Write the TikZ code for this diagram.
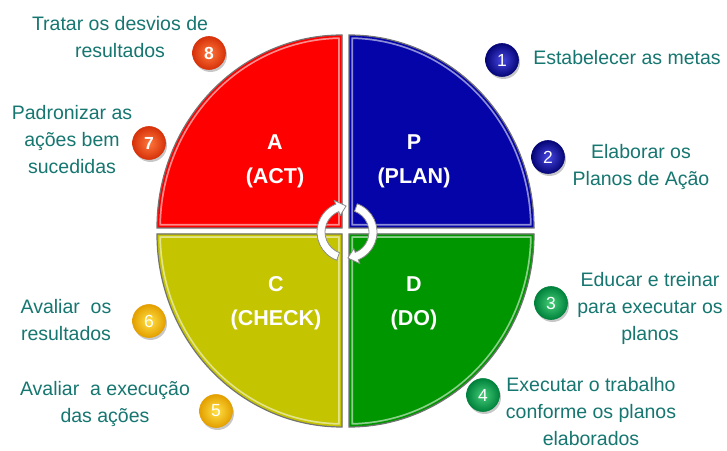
\documentclass[tikz,border=0pt]{standalone}
\usepackage{fontspec}
\setmainfont{Liberation Sans}
\definecolor{qred}{RGB}{255,0,0}
\definecolor{qblue}{RGB}{4,4,168}
\definecolor{qyellow}{RGB}{196,196,0}
\definecolor{qgreen}{RGB}{0,150,0}
\definecolor{tealtxt}{RGB}{22,118,112}
\definecolor{bBlueIn}{RGB}{70,70,225}
\definecolor{bBlueOut}{RGB}{6,6,120}
\definecolor{bGreenIn}{RGB}{70,205,120}
\definecolor{bGreenOut}{RGB}{0,130,60}
\definecolor{bYelIn}{RGB}{255,225,70}
\definecolor{bYelOut}{RGB}{228,160,0}
\definecolor{bRedIn}{RGB}{255,120,60}
\definecolor{bRedOut}{RGB}{215,50,10}
\newcommand\pdcaquad[2]{%
  \fill[#2] #1;
  \begin{scope}
    \clip #1;
    \draw[#2!45!white, line width=8pt] #1;
    \draw[#2, line width=4.5pt] #1;
  \end{scope}
  \draw[black!55, line width=1.2pt] #1;
}
\newcommand\pdcaarrow[1]{%
  \begin{scope}[shift={(347,218)}, rotate=#1]
    \filldraw[fill=white, draw=black!45, line width=0.8pt]
      (250:30) arc[start angle=250, end angle=112, radius=30]
      -- (112:34) -- (92:26) -- (112:18) -- (112:22)
      arc[start angle=112, end angle=250, radius=22] -- cycle;
  \end{scope}}
\tikzset{
  qlabel/.style={text=white, align=center, inner sep=0pt,
    font=\bfseries\fontsize{21.5}{34}\selectfont},
  steptext/.style={text=tealtxt, align=center, inner sep=0pt,
    font=\fontsize{19.5}{27}\selectfont},
  numball/.style={circle, minimum size=33pt, inner sep=0pt, text=white,
    font=\fontsize{17.5}{17.5}\selectfont, draw=#1Out, line width=0.6pt,
    inner color=#1In, outer color=#1Out},
  ballshadow/.style={fill=black, opacity=0.22}
}
\begin{document}
\begin{tikzpicture}[x=1pt, y=1pt]
\useasboundingbox (0,0) rectangle (727,450);
\fill[white] (0,0) rectangle (727,450);

% quadrants
\pdcaquad{(342,222) -- (157,222) arc[start angle=180, end angle=90, x radius=185, y radius=193] -- cycle}{qred}
\pdcaquad{(349,222) -- (534,222) arc[start angle=0, end angle=90, x radius=185, y radius=193] -- cycle}{qblue}
\pdcaquad{(342,216) -- (157,216) arc[start angle=180, end angle=270, x radius=185, y radius=193] -- cycle}{qyellow}
\pdcaquad{(349,216) -- (534,216) arc[start angle=0, end angle=-90, x radius=185, y radius=193] -- cycle}{qgreen}

% central cycle arrows
\pdcaarrow{0}
\pdcaarrow{180}

% quadrant labels
\node[qlabel] (lA) at (275,289) {A\\(ACT)};
\node[qlabel] (lP) at (414,289) {P\\(PLAN)};
\node[qlabel] (lC) at (276,147) {C\\(CHECK)};
\node[qlabel] (lD) at (414,147) {D\\(DO)};

% numbered balls (with soft shadows)
\foreach \x/\y in {502/390, 548/293, 551/147, 483/55, 216/39, 149/129, 149/307, 209/397}
  \fill[ballshadow] (\x+1.5,\y-2.5) circle (16.5);
\node[numball=bBlue] (n1) at (502,390) {1};
\node[numball=bBlue] (n2) at (548,293) {2};
\node[numball=bGreen] (n3) at (551,147) {3};
\node[numball=bGreen] (n4) at (483,55) {4};
\node[numball=bYel] (n5) at (216,39) {5};
\node[numball=bYel] (n6) at (149,129) {6};
\node[numball=bRed, font=\bfseries\fontsize{17.5}{17.5}\selectfont] (n7) at (149,307) {7};
\node[numball=bRed, font=\bfseries\fontsize{17.5}{17.5}\selectfont] (n8) at (209,397) {8};

% step texts
\node[steptext] (t1) at (627,392) {Estabelecer as metas};
\node[steptext] (t2) at (641,283) {Elaborar os\\Planos de Ação};
\node[steptext] (t3) at (650,142) {Educar e treinar\\para executar os\\planos};
\node[steptext] (t4) at (591,38) {Executar o trabalho\\conforme os planos\\elaborados};
\node[steptext] (t5) at (105,46) {Avaliar\ \ a execução\\das ações};
\node[steptext] (t6) at (66,130) {Avaliar\ \ os\\resultados};
\node[steptext] (t7) at (72,310) {Padronizar as\\ações bem\\sucedidas};
\node[steptext] (t8) at (120,413) {Tratar os desvios de\\resultados};
\end{tikzpicture}
\end{document}
